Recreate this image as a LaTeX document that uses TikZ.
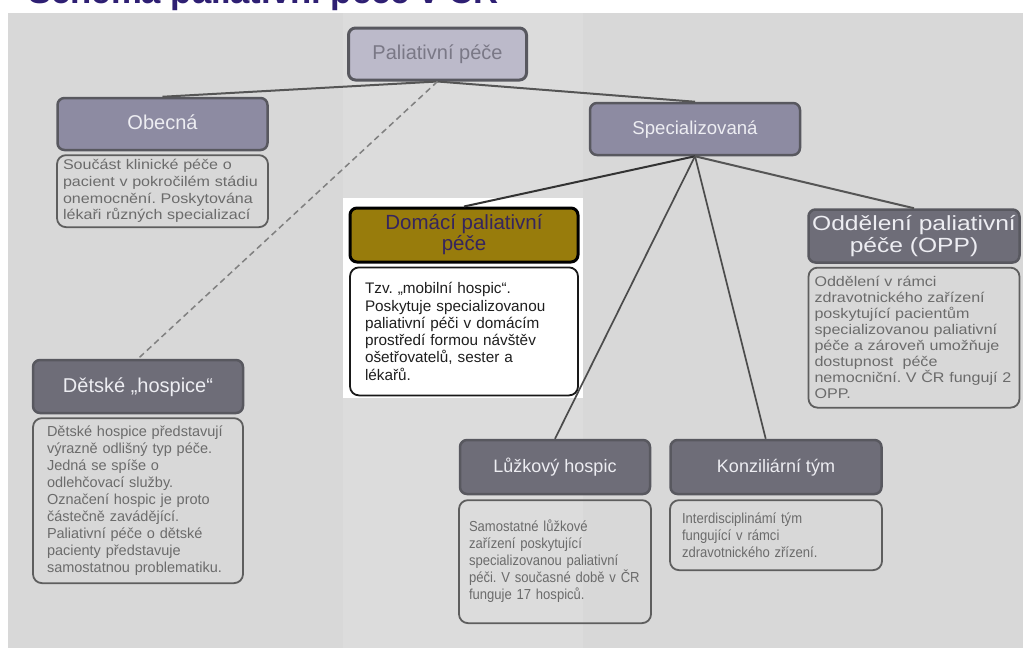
\documentclass[tikz,border=0pt]{standalone}
\usepackage{fontspec}
\setmainfont{Liberation Sans}
\newfontfamily\descfont{Liberation Sans}
\newfontfamily\descwide[FakeStretch=1.15]{Liberation Sans}
\newfontfamily\headwide[FakeStretch=1.2]{Liberation Sans}
\newfontfamily\descnarrow[FakeStretch=0.9]{Liberation Sans}
\frenchspacing
\usetikzlibrary{positioning}
\definecolor{panelGray}{HTML}{D8D8D8}
\definecolor{bandGray}{HTML}{DCDCDC}
\definecolor{titleBlue}{HTML}{2E1F73}
\definecolor{palFill}{HTML}{BCBACA}
\definecolor{palText}{HTML}{7A7886}
\definecolor{lilacFill}{HTML}{8D8BA2}
\definecolor{darkFill}{HTML}{6E6D78}
\definecolor{headEdge}{HTML}{58585F}
\definecolor{headText}{HTML}{EDEDF2}
\definecolor{domFill}{HTML}{987C0C}
\definecolor{domText}{HTML}{35255E}
\definecolor{descEdge}{HTML}{5E5E5E}
\definecolor{descText}{HTML}{6B6B6B}
\definecolor{linkGray}{HTML}{555555}
\tikzstyle{headbox}=[draw=headEdge, line width=2.5pt, rounded corners=7pt, align=center, text=headText, font=\fontsize{20}{22}\selectfont]
\tikzstyle{oneline}=[text height=15pt, text depth=4pt]
\tikzstyle{descbox}=[draw=descEdge, line width=1.8pt, rounded corners=9pt, align=left, inner xsep=0pt, inner ysep=3pt, text=descText]
\tikzstyle{link}=[draw=linkGray, line width=2pt]

\begin{document}
\begin{tikzpicture}[x=1pt, y=-1pt]
\useasboundingbox (0,0) rectangle (1023,648);
\fill[panelGray] (8,13) rectangle (1023,648);
\fill[bandGray] (343,13) rectangle (583,648);
\fill[white] (343,198) rectangle (583,398);

\node (title) [anchor=base west, inner sep=0pt, text=titleBlue, font=\bfseries\fontsize{34.7}{40}\selectfont] at (28,3.5) {Schéma paliativní péče v ČR};

\node (pal) [headbox, oneline, fill=palFill, text=palText, line width=3pt, minimum width=178pt, minimum height=52pt] at (437.5,54) {Paliativní péče};

\node (obec) [headbox, oneline, fill=lilacFill, minimum width=210pt, minimum height=52pt] at (162.5,124) {Obecná};
\node (obecDesc) [descbox, below=3pt of obec, minimum width=211pt, minimum height=72pt, text width=199pt, font=\descwide\fontsize{14}{16.7}\selectfont] {Součást klinické péče o\\pacient v pokročilém stádiu\\onemocnění. Poskytována\\lékaři různých specializací};

\node (spec) [headbox, oneline, fill=lilacFill, minimum width=210pt, minimum height=52pt, font=\fontsize{18.6}{22}\selectfont] at (695,129) {Specializovaná};

\node (domHead) [headbox, fill=domFill, draw=black, text=domText, line width=3pt, minimum width=228pt, minimum height=54pt, font=\fontsize{20.5}{21}\selectfont] at (464,235) {Domácí paliativní\\péče};
\node (domDesc) [descbox, fill=white, draw=black!90, text=black!88, below=3pt of domHead, minimum width=228pt, minimum height=128pt, text width=198pt, font=\descfont\fontsize{15.3}{17.3}\selectfont] {Tzv. „mobilní hospic“.\\Poskytuje specializovanou\\paliativní péči v domácím\\prostředí formou návštěv\\ošetřovatelů, sester a\\lékařů.};

\node (oppHead) [headbox, fill=darkFill, minimum width=211pt, minimum height=53pt, font=\headwide\fontsize{20.5}{21.7}\selectfont] at (914,236) {Oddělení paliativní\\péče (OPP)};
\node (oppDesc) [descbox, below=3pt of oppHead, minimum width=211pt, minimum height=140pt, text width=199pt, font=\descwide\fontsize{14}{16}\selectfont] {Oddělení v rámci\\zdravotnického zařízení\\poskytující pacientům\\specializovanou paliativní\\péče a zároveň umožňuje\\dostupnost~ péče\\nemocniční. V ČR fungují 2\\OPP.};

\node (det) [headbox, oneline, fill=darkFill, minimum width=210pt, minimum height=53pt] at (138,386.5) {Dětské „hospice“};
\node (detDesc) [descbox, below=3pt of det, minimum width=210pt, minimum height=165pt, text width=182pt, font=\descfont\fontsize{14.5}{17.1}\selectfont] {Dětské hospice představují\\výrazně odlišný typ péče.\\Jedná se spíše o\\odlehčovací služby.\\Označení hospic je proto\\částečně zavádějící.\\Paliativní péče o dětské\\pacienty představuje\\samostatnou problematiku.};

\node (luz) [headbox, oneline, fill=darkFill, minimum width=190pt, minimum height=54pt, font=\fontsize{18}{22}\selectfont] at (555,467) {Lůžkový hospic};
\node (luzDesc) [descbox, below=4pt of luz, minimum width=192pt, minimum height=123pt, text width=172pt, font=\descnarrow\fontsize{14.5}{17}\selectfont] {Samostatné lůžkové\\zařízení poskytující\\specializovanou paliativní\\péči. V současné době v ČR\\funguje 17 hospiců.};

\node (konz) [headbox, oneline, fill=darkFill, minimum width=211pt, minimum height=54pt, font=\fontsize{18}{22}\selectfont] at (776,467) {Konziliární tým};
\node (konzDesc) [descbox, below=4pt of konz, minimum width=212pt, minimum height=70pt, text width=188pt, font=\descnarrow\fontsize{14.5}{17}\selectfont] {Interdisciplinámí tým\\fungující v rámci\\zdravotnického zřízení.};

\draw[link]
	(pal.south) edge (obec.north)
	(pal.south) edge (spec.north);

\draw[link, draw=gray, line width=1.5pt, dash pattern=on 6pt off 4pt]
	(pal.south) edge (det.north);

\draw[link, draw=black!80]
	(spec.south) edge (domHead.north);

\draw[link, line width=1.7pt, draw=black!70]
	(spec.south) edge (luz.north)
	(spec.south) edge (konz.110);

\draw[link]
	(spec.south) edge (oppHead.north);

\end{tikzpicture}
\end{document}
